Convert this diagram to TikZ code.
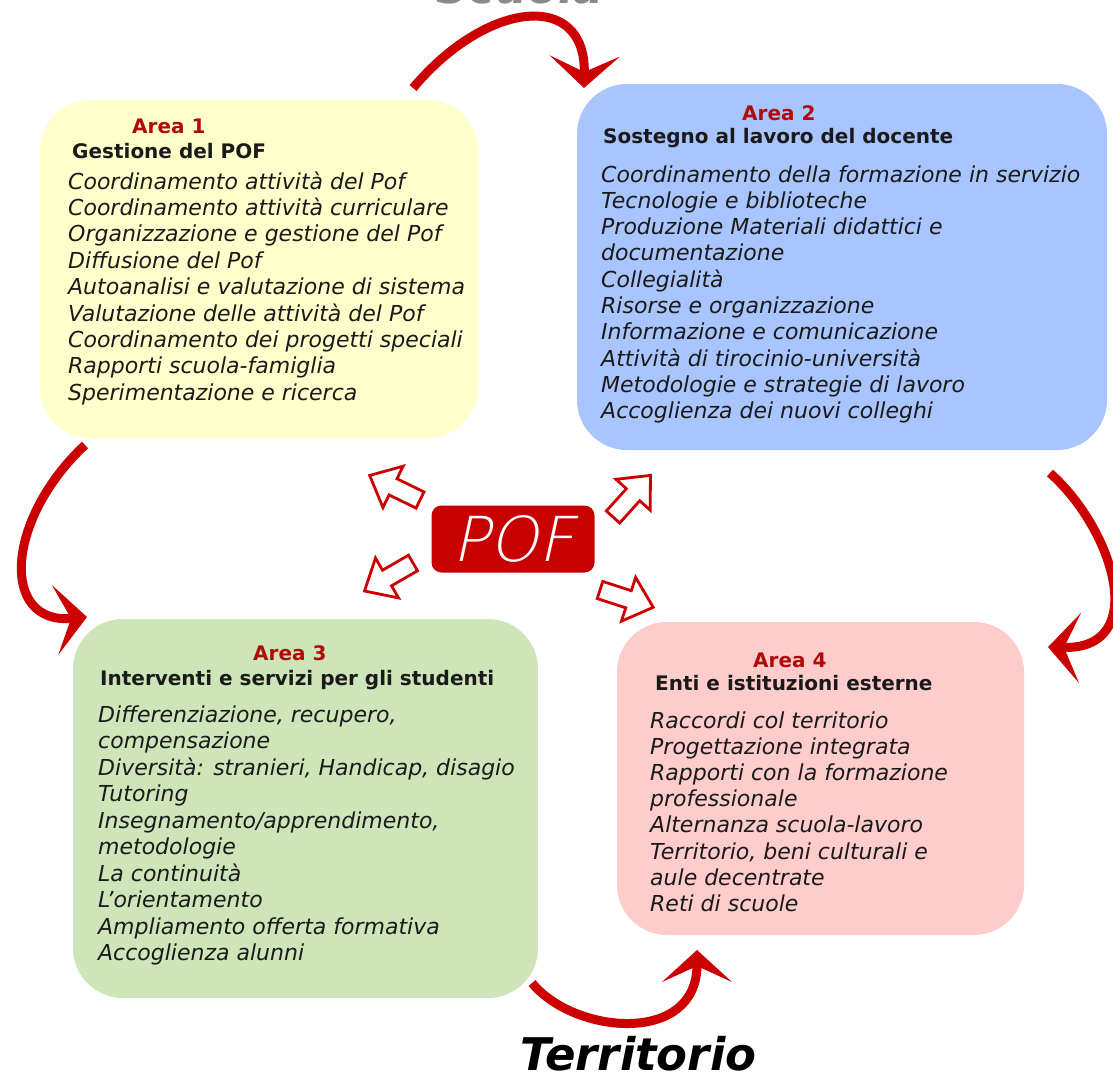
\documentclass[tikz,border=0pt]{standalone}
\usepackage{fontspec}
\setmainfont{DejaVu Sans}
\newfontfamily\poffont[FakeSlant=0.22]{DejaVu Sans ExtraLight}
\usetikzlibrary{arrows.meta}
\definecolor{areared}{HTML}{B00A0A}
\definecolor{arrowred}{HTML}{CC0000}
\definecolor{pofred}{HTML}{C80000}
\definecolor{yellowbg}{HTML}{FFFFCC}
\definecolor{bluebg}{HTML}{A8C5FF}
\definecolor{greenbg}{HTML}{CDE5B9}
\definecolor{pinkbg}{HTML}{FFCCCC}
\definecolor{ink}{HTML}{1A1A1A}
\definecolor{grey}{HTML}{8A8A8A}
\tikzset{
  areabox/.style={rounded corners=50pt, inner sep=0pt},
  areatitle/.style={text=areared, font=\fontsize{20}{24}\selectfont\bfseries, anchor=base west, inner sep=0pt},
  areahead/.style={text=ink, font=\fontsize{20}{24}\selectfont\bfseries, anchor=base west, inner sep=0pt},
  item/.style={text=ink, font=\fontsize{22}{26}\selectfont\itshape, anchor=base west, inner sep=0pt},
  turn/.style={draw=arrowred, line width=9pt, -{Stealth[length=32pt,width=70pt,inset=16pt]}},
  hollow/.style={draw=arrowred, fill=white, line width=2.8pt, line join=miter},
  pofbox/.style={fill=pofred, rounded corners=10pt, minimum width=163pt, minimum height=67pt,
    text=white, font=\poffont\fontsize{62}{66}\selectfont, inner sep=0pt},
  place/.style={font=\fontsize{45}{50}\selectfont\bfseries\itshape, anchor=base west, inner sep=0pt},
}

\begin{document}
\begin{tikzpicture}[x=1pt, y=-1pt]
  \fill[white] (0,0) rectangle (1113,1076);
  \useasboundingbox (0,0) rectangle (1113,1076);

  % the four areas
  \node[areabox, fill=yellowbg, minimum width=438pt, minimum height=338pt] (area1) at (259,269) {};
  \node[areabox, fill=bluebg, minimum width=530pt, minimum height=366pt] (area2) at (842,267) {};
  \node[areabox, fill=greenbg, minimum width=465pt, minimum height=379pt] (area3) at (305.5,808.5) {};
  \node[areabox, fill=pinkbg, minimum width=407pt, minimum height=313pt] (area4) at (820.5,778.5) {};

  \node[place, text=grey] (scuola) at (436,4) {Scuola};
  \node[place, text=black] (territorio) at (520,1070) {Territorio};

  % Area 1
  \node[areatitle] (t1) at (132,133) {Area 1};
  \node[areahead] (h1) at (72,158) {Gestione del POF};
  \foreach \t [count=\i] in {Coordinamento attività del Pof, Coordinamento attività curriculare,
      Organizzazione e gestione del Pof, Diffusione del Pof, Autoanalisi e valutazione di sistema,
      Valutazione delle attività del Pof, Coordinamento dei progetti speciali,
      Rapporti scuola-famiglia, Sperimentazione e ricerca}
    \node[item] (a1-\i) at (68,{189+26.4*(\i-1)}) {\t};

  % Area 2
  \node[areatitle] (t2) at (742,120) {Area 2};
  \node[areahead] (h2) at (603,143) {Sostegno al lavoro del docente};
  \foreach \t [count=\i] in {Coordinamento della formazione in servizio, Tecnologie e biblioteche,
      Produzione Materiali didattici e, documentazione, Collegialità, Risorse e organizzazione,
      Informazione e comunicazione, Attività di tirocinio-università,
      Metodologie e strategie di lavoro, Accoglienza dei nuovi colleghi}
    \node[item] (a2-\i) at (601,{182+26.3*(\i-1)}) {\t};

  % Area 3
  \node[areatitle] (t3) at (253,660) {Area 3};
  \node[areahead] (h3) at (100,685) {Interventi e servizi per gli studenti};
  \foreach \t [count=\i] in {{Differenziazione, recupero,}, compensazione,
      {Diversità: stranieri, Handicap, disagio}, Tutoring, {Insegnamento/apprendimento,},
      metodologie, La continuità, L'orientamento, Ampliamento offerta formativa, Accoglienza alunni}
    \node[item] (a3-\i) at (98,{722+26.5*(\i-1)}) {\t};

  % Area 4
  \node[areatitle] (t4) at (753,667) {Area 4};
  \node[areahead] (h4) at (655,690) {Enti e istituzioni esterne};
  \foreach \t [count=\i] in {Raccordi col territorio, Progettazione integrata,
      Rapporti con la formazione, professionale, Alternanza scuola-lavoro,
      {Territorio, beni culturali e}, aule decentrate, Reti di scuole}
    \node[item] (a4-\i) at (650,{728+26.2*(\i-1)}) {\t};

  % centre
  \node[pofbox] (pof) at (513,539) {POF};
  \foreach \x/\y/\a in {420/500/154, 613/517/48, 413/563/210, 600/590/-18}
    \draw[hollow, shift={(\x,\y)}, rotate=\a]
      (0,-9) -- (30,-9) -- (30,-23) -- (56,0) -- (30,23) -- (30,9) -- (0,9) -- cycle;

  % cycle arrows
  \coordinate (s12) at (413,88);   \coordinate (e12) at (584,88);
  \coordinate (s13) at (85,445);   \coordinate (e13) at (87,617);
  \coordinate (s24) at (1050,473); \coordinate (e24) at (1048,647);
  \coordinate (s34) at (532,983);  \coordinate (e34) at (697,950);
  \draw[turn] (s12) .. controls (487,0) and (586,-10) .. (e12);
  \draw[turn] (s13) .. controls (5,520) and (0,625) .. (e13);
  \draw[turn] (s24) .. controls (1115,531) and (1150,650) .. (e24);
  \draw[turn] (s34) .. controls (575,1035) and (697,1045) .. (e34);
\end{tikzpicture}
\end{document}
